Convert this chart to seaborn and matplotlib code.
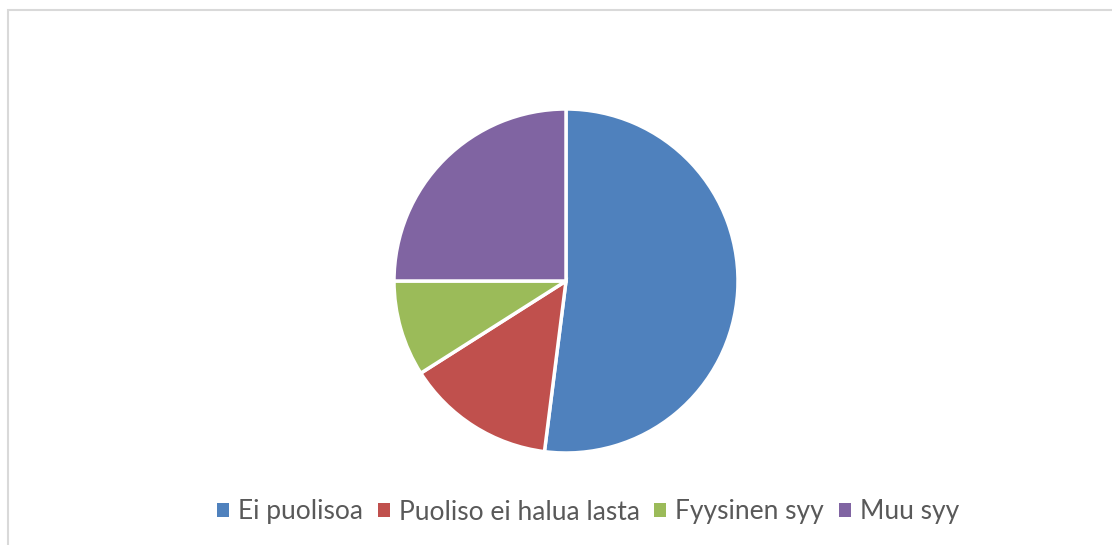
import matplotlib
matplotlib.use("Agg")
import matplotlib.pyplot as plt
import seaborn as sns
from matplotlib.patches import Rectangle, Patch

categories = ["Ei puolisoa", "Puoliso ei halua lasta", "Fyysinen syy", "Muu syy"]
values = [52, 14, 9, 25]
colors = ["#4F81BD", "#C0504D", "#9BBB59", "#8064A2"]

sns.set_theme(style="white")
plt.rcParams['font.family'] = ['Lato', 'DejaVu Sans']

W, H = 1112, 545
fig = plt.figure(figsize=(W / 100, H / 100), dpi=100)
fig.patch.set_facecolor("white")

# chart frame (cropped at right/bottom)
fig.add_artist(Rectangle((7.5 / W, -0.05), 1.2, 1 - 9.5 / H + 0.05,
                         transform=fig.transFigure, fill=False,
                         edgecolor="#D9D9D9", linewidth=1.5))

cx, cy, r = 566, H - 281, 172
ax = fig.add_axes([(cx - r) / W, (cy - r) / H, 2 * r / W, 2 * r / H])
ax.pie(values, colors=colors, startangle=90, counterclock=False,
       wedgeprops=dict(edgecolor="white", linewidth=2.5), radius=1)
ax.set_xlim(-1, 1)
ax.set_ylim(-1, 1)
ax.set_aspect("equal")
ax.axis("off")

handles = [Patch(facecolor=c, edgecolor="none") for c in colors]
fig.legend(handles, categories, loc="center", ncol=4,
           bbox_to_anchor=(588 / W, 1 - 512 / H), frameon=False,
           fontsize=19, handlelength=0.45, handleheight=0.45,
           handletextpad=0.35, columnspacing=0.55, labelcolor="#595959")

fig.savefig("out.png", dpi=100, facecolor="white")
